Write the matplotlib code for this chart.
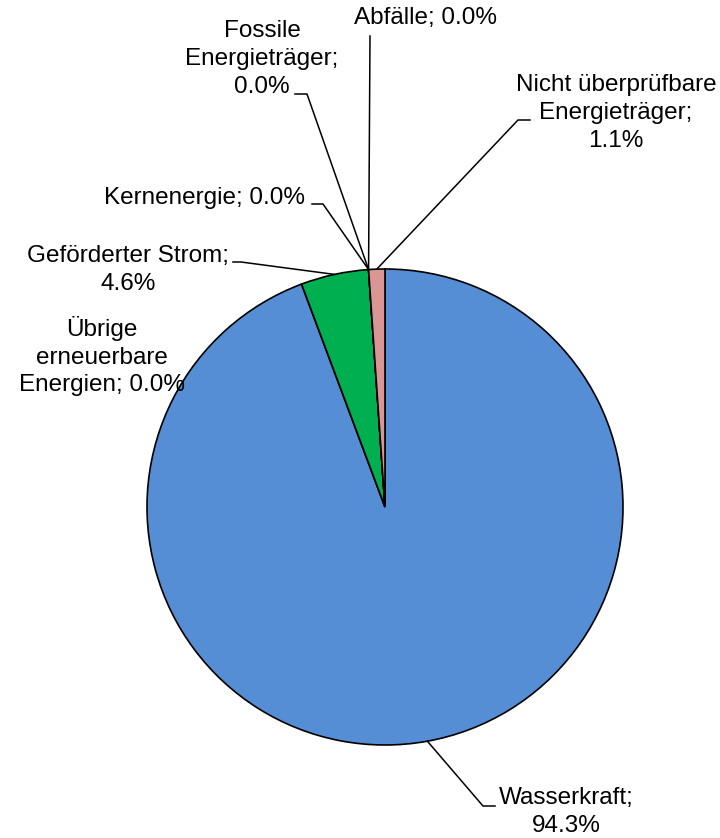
import numpy as np
import matplotlib.pyplot as plt

plt.rcParams['font.family'] = ['Liberation Sans', 'DejaVu Sans']

# Daten
categories = ['Wasserkraft', 'Übrige erneuerbare Energien', 'Geförderter Strom',
              'Kernenergie', 'Fossile Energieträger', 'Abfälle',
              'Nicht überprüfbare Energieträger']
shares = [94.3, 0.0, 4.6, 0.0, 0.0, 0.0, 1.1]
label_names = ['Wasserkraft;\n', 'Übrige\nerneuerbare\nEnergien; ', 'Geförderter Strom;\n',
               'Kernenergie; ', 'Fossile\nEnergieträger;\n', 'Abfälle; ',
               'Nicht überprüfbare\nEnergieträger;\n']
colors = ['#558ED5', '#558ED5', '#00B050', '#558ED5', '#558ED5', '#558ED5', '#D99694']

W, H = 720, 838

# Layout in Bildkoordinaten (y nach unten): Textmitte, Knickpunkt, Endpunkt
text_pos = [(566, 812), (102, 356), (128, 270), (205, 198), (262, 59), (426, 18), (616, 113)]
elbow_pos = [(483, 806), None, (241, 262), (323, 204), (307, 94), (370, 36), (518, 120)]
end_pos = [(495, 806), None, (233, 262), (312, 204), (295, 94), (370, 36), (530, 120)]


def img(p):
    return (p[0], H - p[1])


fig = plt.figure(figsize=(W / 100, H / 100), dpi=100)
ax = fig.add_axes([0, 0, 1, 1])

wedges, _ = ax.pie(shares, colors=colors, startangle=90, counterclock=False,
                   center=img((385, 507)), radius=238, frame=True,
                   wedgeprops=dict(edgecolor='black', linewidth=1.2))

for i, w in enumerate(wedges):
    txt = label_names[i] + '%.1f%%' % shares[i]
    ax.text(*img(text_pos[i]), txt, ha='center', va='center', fontsize=17.5,
            linespacing=1.33, color='black')
    if elbow_pos[i] is None:
        continue
    ang = np.deg2rad((w.theta1 + w.theta2) / 2)
    ax_x = w.center[0] + w.r * np.cos(ang)
    ax_y = w.center[1] + w.r * np.sin(ang)
    ex, ey = img(elbow_pos[i])
    tx, ty = img(end_pos[i])
    ax.plot([ax_x, ex, tx], [ax_y, ey, ty], color='black', linewidth=1.1)

ax.set_xlim(0, W)
ax.set_ylim(0, H)
ax.set_aspect('equal')
ax.axis('off')

fig.savefig('out.png', dpi=100, facecolor='white')
